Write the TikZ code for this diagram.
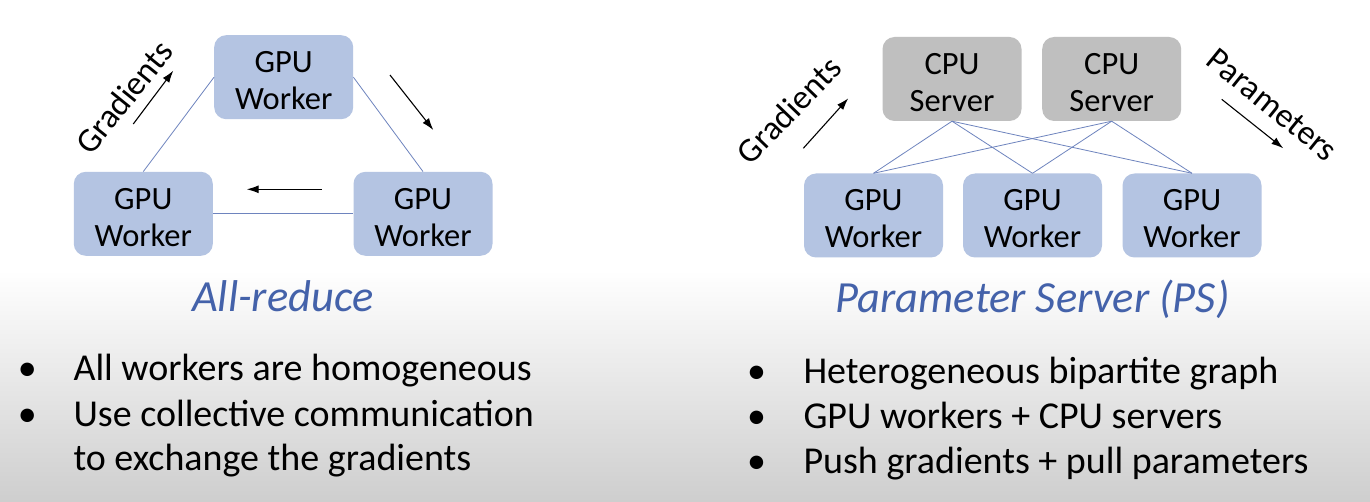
\documentclass[tikz,border=0pt]{standalone}
\usepackage{fontspec}
\setmainfont{Carlito}
\usepackage{tikz}
\usetikzlibrary{arrows.meta}

\definecolor{gpufill}{RGB}{180,196,226}
\definecolor{cpufill}{RGB}{191,191,191}
\definecolor{linkblue}{RGB}{110,132,190}
\definecolor{titleblue}{RGB}{68,98,170}
\definecolor{bggray}{RGB}{206,206,206}

\begin{document}
\begin{tikzpicture}[x=1pt, y=-1pt,
		worker/.style={fill=gpufill, rounded corners=12pt, minimum width=139pt, minimum height=84pt, inner sep=0pt, align=center, text height=65pt, font=\fontsize{32.5}{37}\selectfont},
		server/.style={worker, fill=cpufill},
		link/.style={draw=linkblue, line width=0.8pt},
		flow/.style={-{Latex[length=12pt,width=8pt]}, line width=1.1pt},
		flowlabel/.style={inner sep=0pt, font=\fontsize{34}{38}\selectfont},
		heading/.style={anchor=base, inner sep=0pt, text=titleblue, font=\fontsize{44.5}{50}\selectfont\itshape},
		itemtext/.style={anchor=base west, inner sep=0pt, font=\fontsize{38}{44}\selectfont},
		itemdot/.style={anchor=base, inner sep=0pt, font=\fontsize{38}{44}\selectfont}]
		% Background:
		\useasboundingbox (0,0) rectangle (1370,502);
		\fill[white] (0,0) rectangle (1370,502);
		\shade[top color=white, bottom color=bggray] (0,270) rectangle (1370,502);
		% All-reduce ring:
		\node[worker] (topw) at (283.7,77.2) {GPU\\Worker};
		\node[worker] (leftw) at (143.3,213.8) {GPU\\Worker};
		\node[worker] (rightw) at (423,213.8) {GPU\\Worker};
		\draw[link] (topw.west) -- (leftw.north);
		\draw[link] (topw.east) -- (rightw.north);
		\draw[link] (leftw.east) -- (rightw.west);
		\coordinate (ringa) at (133.3,124);
		\coordinate (ringb) at (173.3,70.7);
		\coordinate (ringc) at (390,75);
		\coordinate (ringd) at (433.3,130);
		\coordinate (ringe) at (321.7,189.3);
		\coordinate (ringf) at (246.7,189.3);
		\draw[flow] (ringa) -- (ringb);
		\draw[flow] (ringc) -- (ringd);
		\draw[flow] (ringe) -- (ringf);
		\node[flowlabel, rotate=51] (ringlabel) at (124,97) {Gradients};
		\node[heading] (artitle) at (283,312) {All-reduce};
		% Parameter server graph:
		\node[server] (cpua) at (952,79) {CPU\\Server};
		\node[server] (cpub) at (1111.7,79) {CPU\\Server};
		\node[worker] (gpua) at (873.5,215.5) {GPU\\Worker};
		\node[worker] (gpub) at (1032.5,215.5) {GPU\\Worker};
		\node[worker] (gpuc) at (1192,215.5) {GPU\\Worker};
		\draw[link] (cpua.south) -- (gpua.north);
		\draw[link] (cpua.south) -- (gpub.north);
		\draw[link] (cpua.south) -- (gpuc.north);
		\draw[link] (cpub.south) -- (gpua.north);
		\draw[link] (cpub.south) -- (gpub.north);
		\draw[link] (cpub.south) -- (gpuc.north);
		\coordinate (psa) at (803.3,148.3);
		\coordinate (psb) at (848.3,98.3);
		\coordinate (psc) at (1221.7,99.3);
		\coordinate (psd) at (1283.3,148.3);
		\draw[flow] (psa) -- (psb);
		\draw[flow] (psc) -- (psd);
		\node[flowlabel, rotate=46] (pushlabel) at (789,110) {Gradients};
		\node[flowlabel, rotate=-39] (pulllabel) at (1272,105) {Parameters};
		\node[heading] (pstitle) at (1032.5,312.5) {Parameter Server (PS)};
		% Bullet lists:
		\node[itemdot] (ardota) at (27.3,381) {\textbullet};
		\node[itemtext] (arlinea) at (73.3,381) {All workers are homogeneous};
		\node[itemdot] (ardotb) at (27.3,426) {\textbullet};
		\node[itemtext] (arlineb) at (73.3,426) {Use collective communication};
		\node[itemtext] (arlinec) at (73.3,470.5) {to exchange the gradients};
		\node[itemdot] (psdota) at (756.7,383) {\textbullet};
		\node[itemtext] (pslinea) at (803.3,383) {Heterogeneous bipartite graph};
		\node[itemdot] (psdotb) at (756.7,428) {\textbullet};
		\node[itemtext] (pslineb) at (803.3,428) {GPU workers + CPU servers};
		\node[itemdot] (psdotc) at (756.7,473) {\textbullet};
		\node[itemtext] (pslinec) at (803.3,473) {Push gradients + pull parameters};
	\end{tikzpicture}
\end{document}
